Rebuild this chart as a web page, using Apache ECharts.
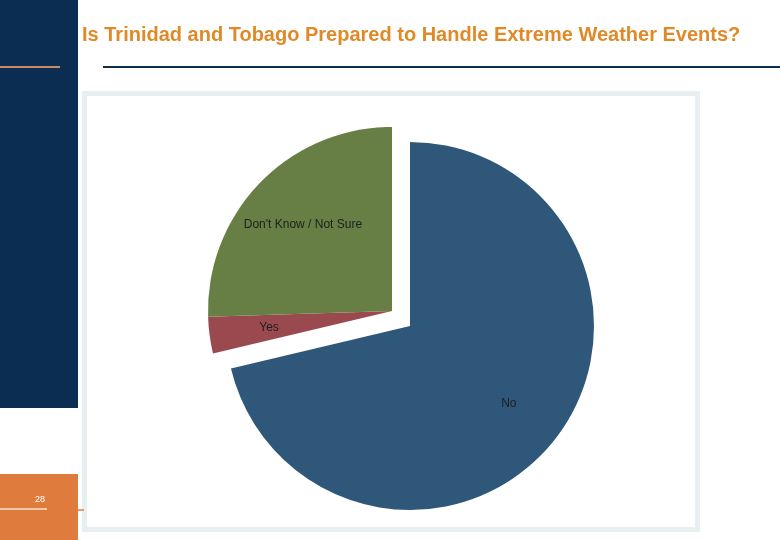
<!DOCTYPE html>
<html style="height: 100%">

<head>
    <meta charset="UTF-8" />
    <script type="text/javascript" src="https://cdn.jsdelivr.net/npm/echarts@6/dist/echarts.min.js"></script>
</head>

<body style="height: 100%; margin: 0; background: #fff">
    <div id="container" style="width: 780px; height: 540px"></div>
    <script>
        // answers and share of respondents (%)
        var categories = ['No', 'Yes', "Don't Know / Not Sure"];
        var values = [71.3, 3.2, 25.5];
        var colors = ['#2f5779', '#9a4a4f', '#677f45'];
        // which slices sit in the pulled-out wedge
        var exploded = [false, true, true];
        var pageNumber = '28';
        var titleText = 'Is Trinidad and Tobago Prepared to Handle Extreme Weather Events?';

        var dom = document.getElementById("container");
        var chart = echarts.init(dom);

        var mainCenter = [410, 326];
        var outCenter = [392, 311];

        function buildData(wantExploded, fill, showLabel) {
            return categories.map(function (name, i) {
                var mine = exploded[i] === wantExploded;
                return {
                    name: name,
                    value: values[i],
                    itemStyle: { color: (mine && fill) ? colors[i] : 'rgba(0,0,0,0)' },
                    label: { show: mine && showLabel }
                };
            });
        }

        function pie(center, radius, data) {
            return {
                type: 'pie',
                center: center,
                radius: radius,
                startAngle: 90,
                clockwise: true,
                silent: true,
                avoidLabelOverlap: false,
                labelLine: { show: false },
                label: {
                    position: 'inside',
                    formatter: '{b}',
                    color: '#1e1e1e',
                    fontSize: 12,
                    fontFamily: 'Liberation Sans'
                },
                data: data
            };
        }

        chart.setOption({
            animation: false,
            title: {
                text: titleText,
                left: 77,
                top: 20,
                textStyle: {
                    color: '#df8a26',
                    fontSize: 20,
                    fontWeight: 'bold',
                    fontFamily: 'Liberation Sans'
                }
            },
            graphic: [
                { type: 'rect', shape: { x: 0, y: 0, width: 78, height: 408 }, style: { fill: '#0b2d52' }, z: -10 },
                { type: 'rect', shape: { x: 0, y: 474, width: 78, height: 66 }, style: { fill: '#e07b3e' }, z: -10 },
                { type: 'line', shape: { x1: 0, y1: 67, x2: 60, y2: 67 }, style: { stroke: '#c98a66', lineWidth: 2 } },
                { type: 'line', shape: { x1: 103, y1: 67, x2: 780, y2: 67 }, style: { stroke: '#0f2d4f', lineWidth: 2 } },
                { type: 'line', shape: { x1: 0, y1: 509, x2: 47, y2: 509 }, style: { stroke: '#f6e2c8', lineWidth: 1.5 } },
                { type: 'line', shape: { x1: 78, y1: 510, x2: 84, y2: 510 }, style: { stroke: '#e07b3e', lineWidth: 1.5 } },
                {
                    type: 'text', x: 40, y: 500,
                    style: { text: pageNumber, fill: '#ffffff', fontSize: 9, fontFamily: 'Liberation Sans', align: 'center', verticalAlign: 'middle' }
                },
                {
                    type: 'rect', shape: { x: 84.5, y: 93.5, width: 613, height: 436 },
                    style: { fill: '#ffffff', stroke: '#e8eff1', lineWidth: 5 }, z: -5
                }
            ],
            series: [
                pie(mainCenter, [0, 184], buildData(false, true, false)),
                pie(outCenter, [0, 184], buildData(true, true, false)),
                pie(mainCenter, [62, 184], buildData(false, false, true)),
                pie(outCenter, [58, 184], buildData(true, false, true))
            ]
        });
    </script>
</body>

</html>
